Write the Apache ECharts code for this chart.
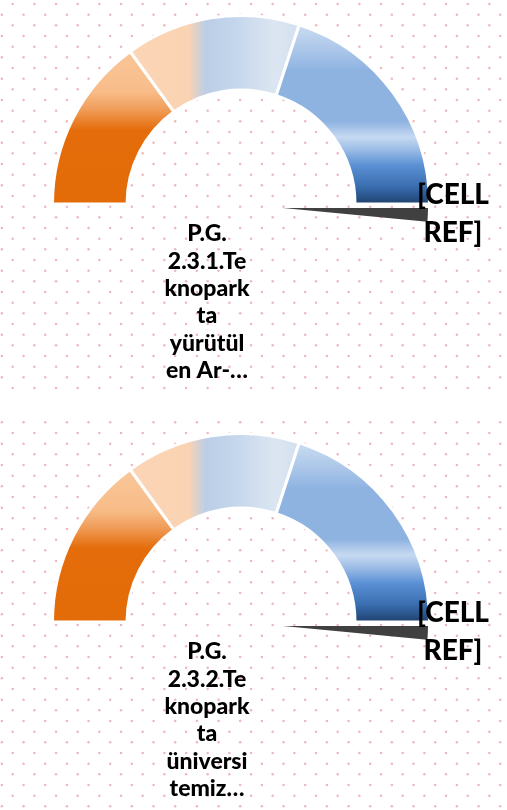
<!DOCTYPE html>
<html>
<head>
<meta charset="utf-8">
<script src="https://cdn.jsdelivr.net/npm/echarts@6/dist/echarts.min.js"></script>
<style>
  html, body { margin: 0; padding: 0; background: #fff; }
  .gauge { position: absolute; left: 0; width: 507px; height: 395px; }
  #g1 { top: 0; }
  #g2 { top: 415px; }
</style>
</head>
<body>
<div id="g1" class="gauge"></div>
<div id="g2" class="gauge"></div>
<script>
// gauge bands (share of the visible half), the hidden lower half, and the needle
const bandValues = [30, 30, 40]
const hiddenHalf = 100
const needleValues = [100, 100]
const needleWidth = 3
const kpiLabels = [
  'P.G.\n2.3.1.Te\nknopark\nta\nyürütül\nen Ar-…',
  'P.G.\n2.3.2.Te\nknopark\nta\nüniversi\ntemiz…'
]
const valueLabels = ['[CELL\nREF]', '[CELL\nREF]']

// dotted fill of the chart area
function dotPattern(oy) {
  const w = 65, h = 64
  const c = document.createElement('canvas')
  c.width = w
  c.height = h
  const ctx = c.getContext('2d')
  ctx.fillStyle = '#efb6bb'
  for (let r = 0; r < 6; r++) {
    const y = (oy + r * h / 6) % h
    const x0 = 12.7 + (r % 2 ? w / 6 : 0)
    for (let k = 0; k < 3; k++) {
      const x = (x0 + k * w / 3) % w
      for (const dx of [0, -w, w]) {
        for (const dy of [0, -h, h]) {
          ctx.beginPath()
          ctx.arc(x + dx, y + dy, 1.25, 0, Math.PI * 2)
          ctx.fill()
        }
      }
    }
  }
  return c
}

function buildOption(idx, cy, patternOffset) {
  const cx = 241
  const orange = {
    type: 'linear', x: 0, y: cy - 147, x2: 0, y2: cy, global: true,
    colorStops: [
      { offset: 0, color: '#f9c597' },
      { offset: 0.24, color: '#f8bc88' },
      { offset: 0.36, color: '#f09c58' },
      { offset: 0.5, color: '#e46c0a' },
      { offset: 1, color: '#e36c09' }
    ]
  }
  const middle = {
    type: 'linear', x: 130, y: 0, x2: 298, y2: 0, global: true,
    colorStops: [
      { offset: 0, color: '#fbd5b5' },
      { offset: 0.35, color: '#fad3b3' },
      { offset: 0.45, color: '#bccee6' },
      { offset: 0.62, color: '#c4d6ec' },
      { offset: 0.86, color: '#dce6f2' },
      { offset: 1, color: '#d3e0f0' }
    ]
  }
  const blue = {
    type: 'linear', x: 0, y: cy - 176, x2: 0, y2: cy, global: true,
    colorStops: [
      { offset: 0, color: '#c6d9f0' },
      { offset: 0.14, color: '#a8c4e8' },
      { offset: 0.24, color: '#8eb3e1' },
      { offset: 0.53, color: '#8eb3e1' },
      { offset: 0.62, color: '#c6d9f1' },
      { offset: 0.69, color: '#9dbde6' },
      { offset: 0.78, color: '#5b90d5' },
      { offset: 0.9, color: '#3a6eb0' },
      { offset: 1, color: '#1f416f' }
    ]
  }
  const fills = [orange, middle, blue]
  const bandData = bandValues.map((v, i) => ({
    value: v,
    itemStyle: { color: fills[i], borderColor: '#fff', borderWidth: 3 }
  }))
  bandData.push({ value: hiddenHalf, itemStyle: { color: 'transparent', borderWidth: 0 } })

  const nv = needleValues[idx]
  const needleData = [
    { value: nv, itemStyle: { color: 'transparent' } },
    { value: needleWidth, itemStyle: { color: '#404040' } },
    { value: 2 * hiddenHalf - nv - needleWidth, itemStyle: { color: 'transparent' } }
  ]

  return {
    animation: false,
    graphic: [
      {
        type: 'rect', z: -10, silent: true,
        shape: { x: 0, y: 0, width: 507, height: 395 },
        style: { fill: { image: dotPattern(patternOffset), repeat: 'repeat' } }
      },
      {
        type: 'text', silent: true,
        style: {
          text: kpiLabels[idx], x: 207, y: cy + 16,
          align: 'center', verticalAlign: 'top', textAlign: 'center', textVerticalAlign: 'top',
          fontFamily: 'Lato', fontWeight: 900, fontSize: 23, lineHeight: 27.4, fill: '#000'
        }
      },
      {
        type: 'text', silent: true, z: 10,
        style: {
          text: valueLabels[idx], x: 453, y: cy - 28,
          align: 'center', verticalAlign: 'top', textAlign: 'center', textVerticalAlign: 'top',
          fontFamily: 'Lato', fontWeight: 900, fontSize: 28, lineHeight: 38, fill: '#000'
        }
      }
    ],
    series: [
      {
        type: 'pie',
        silent: true,
        center: [cx, cy],
        radius: [114, 188.5],
        startAngle: 180,
        clockwise: true,
        label: { show: false },
        labelLine: { show: false },
        emphasis: { disabled: true },
        data: bandData
      },
      {
        type: 'pie',
        silent: true,
        center: [283, cy + 4],
        radius: [0, 145],
        startAngle: 180,
        clockwise: true,
        label: { show: false },
        labelLine: { show: false },
        emphasis: { disabled: true },
        data: needleData
      }
    ]
  }
}

const chart1 = echarts.init(document.getElementById('g1'))
chart1.setOption(buildOption(0, 204, 4))
const chart2 = echarts.init(document.getElementById('g2'))
chart2.setOption(buildOption(1, 207, 18))
</script>
</body>
</html>
